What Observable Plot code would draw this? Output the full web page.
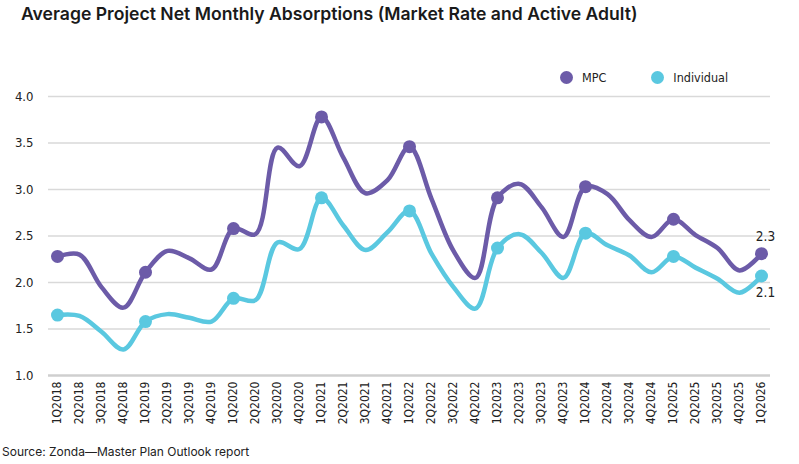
<!DOCTYPE html>
<html><head><meta charset="utf-8">
<script src="https://cdn.jsdelivr.net/npm/d3@7"></script>
<script src="https://cdn.jsdelivr.net/npm/@observablehq/plot@0.6"></script>
<style>
body{margin:0;width:799px;height:464px;position:relative;background:#fff;overflow:hidden;font-family:"DejaVu Sans",sans-serif;font-stretch:condensed;}
#title{position:absolute;left:21px;top:3px;font-family:Inter,sans-serif;font-stretch:normal;font-weight:600;font-size:17.6px;color:#1a1a1a;white-space:nowrap;}
#chart{position:absolute;left:0;top:40px;}
#chart svg text{font-stretch:condensed;}
#legend{position:absolute;top:70px;left:560px;display:flex;font-size:12.5px;color:#222;}
.li{display:flex;align-items:center;margin-right:45px;}
.sw{width:13px;height:13px;border-radius:50%;margin-right:9px;}
#source{position:absolute;left:2px;top:444px;font-family:Inter,sans-serif;font-stretch:normal;font-size:12px;color:#222;}
</style></head><body>
<div id="title">Average Project Net Monthly Absorptions (Market Rate and Active Adult)</div>
<div id="chart"></div>
<div id="legend"></div>
<div id="source">Source: Zonda—Master Plan Outlook report</div>
<script>
const quarters = ["1Q2018","2Q2018","3Q2018","4Q2018","1Q2019","2Q2019","3Q2019","4Q2019","1Q2020","2Q2020","3Q2020","4Q2020","1Q2021","2Q2021","3Q2021","4Q2021","1Q2022","2Q2022","3Q2022","4Q2022","1Q2023","2Q2023","3Q2023","4Q2023","1Q2024","2Q2024","3Q2024","4Q2024","1Q2025","2Q2025","3Q2025","4Q2025","1Q2026"];
const mpc = [2.28,2.30,1.95,1.73,2.11,2.34,2.26,2.14,2.58,2.52,3.45,3.25,3.78,3.34,2.96,3.10,3.46,2.90,2.34,2.05,2.91,3.06,2.81,2.49,3.03,2.95,2.67,2.49,2.68,2.51,2.37,2.13,2.31];
const individual = [1.65,1.64,1.47,1.28,1.58,1.66,1.62,1.58,1.83,1.81,2.43,2.36,2.91,2.61,2.35,2.54,2.77,2.31,1.95,1.72,2.37,2.52,2.32,2.05,2.53,2.40,2.29,2.11,2.28,2.16,2.04,1.89,2.07];
const seriesNames = ["MPC","Individual"];
const colors = ["#6c5ba8","#5ac8e0"];
const yTicks = [1.0,1.5,2.0,2.5,3.0,3.5,4.0];
const endLabels = ["2.3","2.1"];

const data = [];
quarters.forEach((q,i)=>{
  data.push({q, s:"MPC", v:mpc[i], i});
  data.push({q, s:"Individual", v:individual[i], i});
});
const lastIdx = quarters.length-1;
const ends = data.filter(d=>d.i===lastIdx).map(d=>({...d,label:endLabels[seriesNames.indexOf(d.s)]}));

const plot = Plot.plot({
  width:799, height:400,
  marginLeft:48, marginRight:29, marginTop:56, marginBottom:65,
  style:{fontFamily:'"DejaVu Sans",sans-serif', fontSize:"11px", color:"#222"},
  x:{type:"point", domain:quarters, padding:0.37, label:null, tickRotate:-90, tickSize:0, tickPadding:6},
  y:{domain:[1,4], ticks:yTicks, tickFormat:d3.format(".1f"), label:null, tickSize:0, tickPadding:15},
  color:{domain:seriesNames, range:colors},
  marks:[
    Plot.gridY(yTicks.filter(t=>t>1), {stroke:"#d9d9d9", strokeOpacity:1, strokeWidth:1.5}),
    Plot.ruleY([1], {stroke:"#cfcfcf", strokeWidth:2.5}),
    Plot.axisY({ticks:yTicks, tickFormat:d3.format(".1f"), tickSize:0, tickPadding:15, fontSize:13, label:null}),
    Plot.axisX({tickRotate:-90, tickSize:0, tickPadding:6, fontSize:12, label:null}),
    Plot.line(data, {x:"q", y:"v", z:"s", stroke:"s", strokeWidth:4.5, curve:"catmull-rom"}),
    Plot.dot(data.filter(d=>d.q.startsWith("1Q")), {x:"q", y:"v", fill:"s", r:6.5}),
    Plot.text(ends.filter(d=>d.s==="MPC"), {x:"q", y:"v", text:"label", dy:-17, dx:4, fontSize:13.5, fill:"#222"}),
    Plot.text(ends.filter(d=>d.s==="Individual"), {x:"q", y:"v", text:"label", dy:17, dx:4, fontSize:13.5, fill:"#222"})
  ]
});
document.getElementById("chart").appendChild(plot);

const lg = document.getElementById("legend");
seriesNames.forEach((n,k)=>{
  const d=document.createElement("div");d.className="li";
  d.innerHTML=`<span class="sw" style="background:${colors[k]}"></span><span>${n}</span>`;
  lg.appendChild(d);
});
</script>
</body></html>
